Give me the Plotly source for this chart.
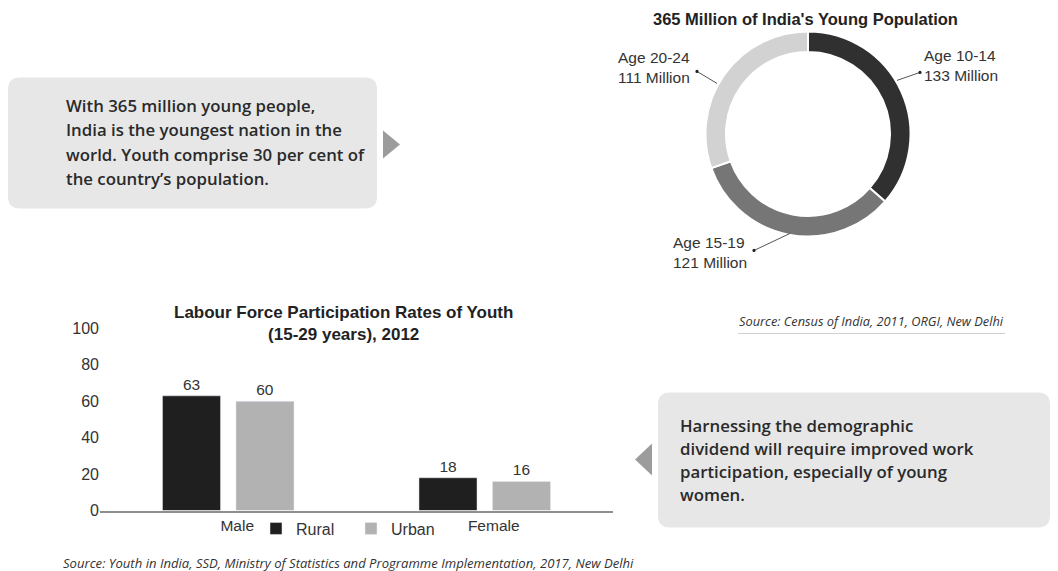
import plotly.graph_objects as go

W, H = 1058, 571

# ---- data ----
age_groups = ["Age 10-14", "Age 15-19", "Age 20-24"]
age_millions = [133, 121, 111]
age_colors = ["#303030", "#767676", "#d2d2d2"]

genders = ["Male", "Female"]
rural = [63, 18]
urban = [60, 16]

pie_title = "365 Million of India's Young Population"
bar_title = "Labour Force Participation Rates of Youth<br>(15-29 years), 2012"
left_text = ["With 365 million young people,",
             "India is the youngest nation in the",
             "world. Youth comprise 30 per cent of",
             "the country\u2019s population."]
right_text = ["Harnessing the demographic",
              "dividend will require improved work",
              "participation, especially of young",
              "women."]
src_census = "Source: Census of India, 2011, ORGI, New Delhi"
src_youth = "Source: Youth in India, SSD, Ministry of Statistics and Programme Implementation, 2017, New Delhi"

# vertical compensation observed in the rendering pipeline
Y_OFF, Y_SCALE = 7.6, 0.97


def px(x):
    return x / W


def py(y):
    return 1 - ((y - Y_OFF) / Y_SCALE) / H


def rounded_rect(x0, y0, x1, y1, r):
    return (f"M {px(x0 + r)} {py(y0)} L {px(x1 - r)} {py(y0)} "
            f"Q {px(x1)} {py(y0)} {px(x1)} {py(y0 + r)} "
            f"L {px(x1)} {py(y1 - r)} Q {px(x1)} {py(y1)} {px(x1 - r)} {py(y1)} "
            f"L {px(x0 + r)} {py(y1)} Q {px(x0)} {py(y1)} {px(x0)} {py(y1 - r)} "
            f"L {px(x0)} {py(y0 + r)} Q {px(x0)} {py(y0)} {px(x0 + r)} {py(y0)} Z")


def tri(points):
    p = " L ".join(f"{px(x)} {py(y)}" for x, y in points)
    return f"M {p} Z"


fig = go.Figure()

# donut
fig.add_trace(go.Pie(
    labels=age_groups, values=age_millions, hole=0.8, sort=False,
    direction="clockwise", rotation=0,
    marker=dict(colors=age_colors, line=dict(color="white", width=2)),
    textinfo="none", hoverinfo="label+value", showlegend=False,
    domain=dict(x=[px(705), px(911)], y=[py(236), py(31)]),
))

arial = "Liberation Sans, Arial, sans-serif"
myriad = "Open Sans, Noto Sans, sans-serif"

# bars
fig.add_trace(go.Bar(name="Rural", x=genders, y=rural, marker_color="#1f1f1f",
                     text=rural, textposition="outside",
                     textfont=dict(family=arial, size=15.5, color="#333")))
fig.add_trace(go.Bar(name="Urban", x=genders, y=urban, marker_color="#b2b2b2",
                     text=urban, textposition="outside",
                     textfont=dict(family=arial, size=15.5, color="#333")))

shapes = []
box_fill = "#e7e7e8"
shapes.append(dict(type="path", path=rounded_rect(8, 77, 377, 208, 12),
                   xref="paper", yref="paper", fillcolor=box_fill, line=dict(width=0), layer="below"))
shapes.append(dict(type="path", path=tri([(383, 130), (400, 144), (383, 158)]),
                   xref="paper", yref="paper", fillcolor="#9c9c9c", line=dict(width=0)))
shapes.append(dict(type="path", path=rounded_rect(658, 392, 1050, 527, 12),
                   xref="paper", yref="paper", fillcolor=box_fill, line=dict(width=0), layer="below"))
shapes.append(dict(type="path", path=tri([(652, 443), (635, 459), (652, 475)]),
                   xref="paper", yref="paper", fillcolor="#9c9c9c", line=dict(width=0)))

# leader lines for donut labels
leaders = [((897, 80), (920, 72)), ((717, 83), (697, 71)), ((790, 233), (754, 250))]
for (x0, y0), (x1, y1) in leaders:
    shapes.append(dict(type="line", xref="paper", yref="paper",
                       x0=px(x0), y0=py(y0), x1=px(x1), y1=py(y1),
                       line=dict(color="#555", width=1)))
    shapes.append(dict(type="circle", xref="paper", yref="paper",
                       x0=px(x1 - 1.6), x1=px(x1 + 1.6), y0=py(y1 + 1.6), y1=py(y1 - 1.6),
                       fillcolor="#222", line=dict(width=0)))

# underline under census source
shapes.append(dict(type="line", xref="paper", yref="paper",
                   x0=px(738), x1=px(1005), y0=py(333), y1=py(333),
                   line=dict(color="#d0d0d0", width=1)))

annotations = []
annotations.append(dict(text=f"<b>{pie_title}</b>", x=px(805), y=py(19), xref="paper", yref="paper",
                        showarrow=False, xanchor="center", yanchor="middle",
                        font=dict(family=arial, size=16.5, color="#222")))
annotations.append(dict(text=f"<b>{bar_title}</b>", x=px(343), y=py(323), xref="paper", yref="paper",
                        showarrow=False, xanchor="center", yanchor="middle",
                        font=dict(family=arial, size=17, color="#222")))

pie_label_pos = [(922, 65), (671, 252), (616, 67)]
for name, val, (x, y) in zip(age_groups, age_millions, pie_label_pos):
    annotations.append(dict(text=f"{name}<br>{val} Million", x=px(x), y=py(y),
                            xref="paper", yref="paper", showarrow=False,
                            xanchor="left", yanchor="middle", align="left",
                            font=dict(family=arial, size=15.5, color="#333")))

for i, line in enumerate(left_text):
    annotations.append(dict(text=line, x=px(64), y=py(105 + 24.3 * i), xref="paper", yref="paper",
                            showarrow=False, xanchor="left", yanchor="middle",
                            font=dict(family=myriad, size=16.8, color="#2a2a2a", weight=600)))
for i, line in enumerate(right_text):
    annotations.append(dict(text=line, x=px(678), y=py(425 + 23 * i), xref="paper", yref="paper",
                            showarrow=False, xanchor="left", yanchor="middle",
                            font=dict(family=myriad, size=16.8, color="#2a2a2a", weight=600)))

annotations.append(dict(text=src_census, x=px(737), y=py(321), xref="paper", yref="paper",
                        showarrow=False, xanchor="left", yanchor="middle",
                        font=dict(family=myriad, size=12.8, color="#333", style="italic")))
annotations.append(dict(text=src_youth, x=px(61), y=py(562), xref="paper", yref="paper",
                        showarrow=False, xanchor="left", yanchor="middle",
                        font=dict(family=myriad, size=13.1, color="#333", style="italic")))

fig.update_layout(
    width=W, height=H, autosize=False,
    margin=dict(l=0, r=0, t=0, b=0),
    paper_bgcolor="white", plot_bgcolor="white",
    barmode="group", bargap=0.427, bargroupgap=0.21,
    xaxis=dict(domain=[px(100), px(613)], showline=True, linecolor="#8f8f8f", linewidth=2,
               showgrid=False, ticks="", zeroline=False, ticklabelshift=9,
               tickfont=dict(family=arial, size=15.5, color="#333")),
    yaxis=dict(domain=[py(510), py(328)], range=[0, 100], dtick=20, showgrid=False,
               showline=False, zeroline=False, ticks="",
               tickfont=dict(family=arial, size=16, color="#333")),
    showlegend=True,
    legend=dict(orientation="h", x=px(256), y=py(528), xanchor="left", yanchor="middle",
                font=dict(family=arial, size=16, color="#333"), bgcolor="rgba(0,0,0,0)",
                itemclick=False, entrywidth=50),
    shapes=shapes, annotations=annotations,
)

fig.write_html("out.html")
